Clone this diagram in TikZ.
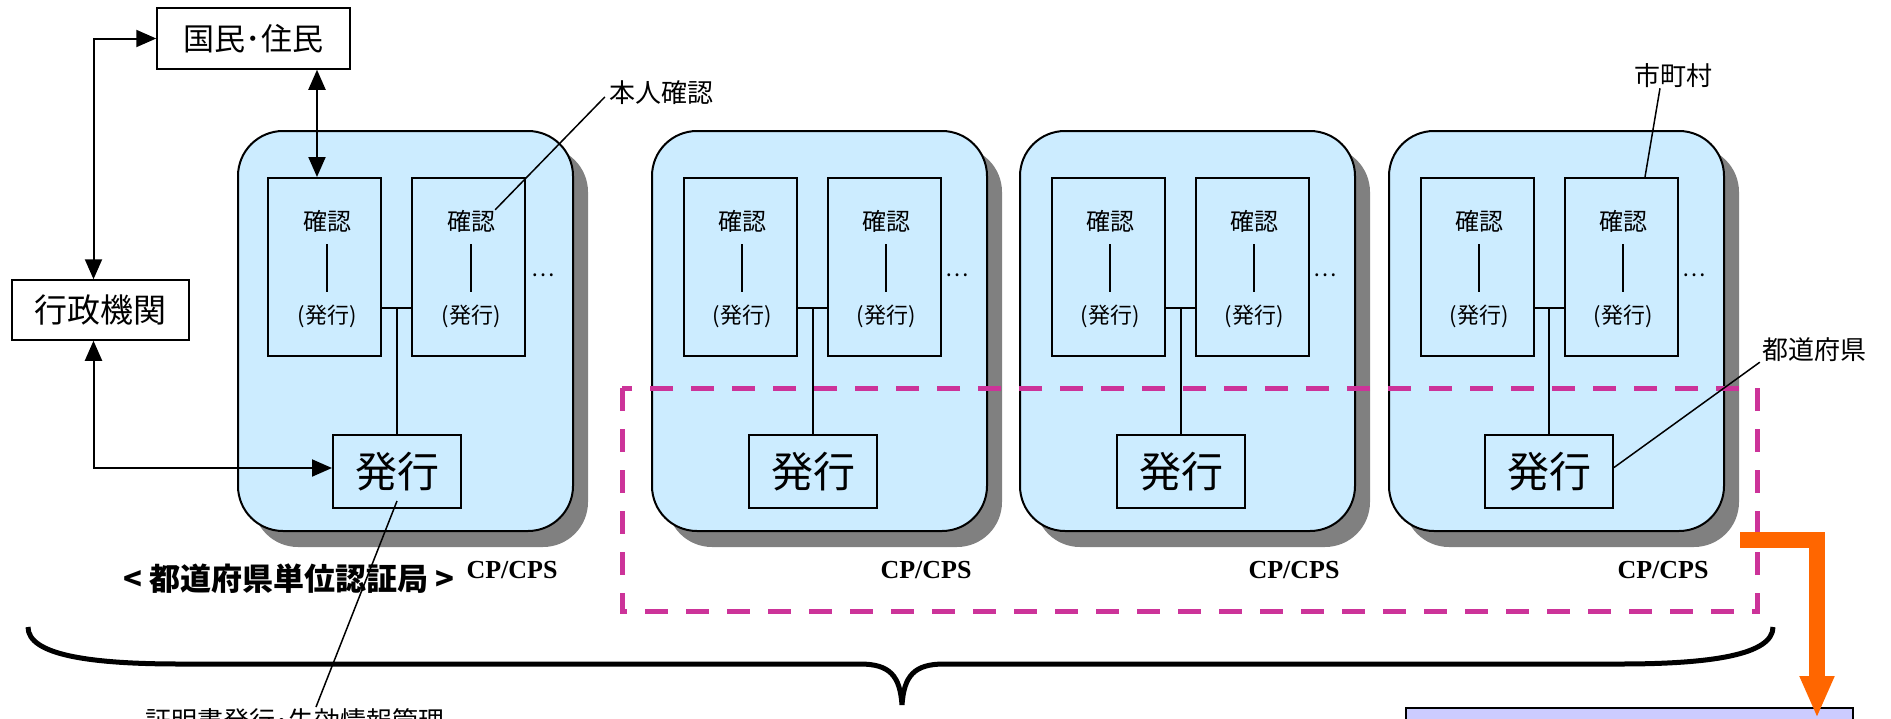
\documentclass[tikz,border=0pt]{standalone}
\usepackage{fontspec}
\newfontfamily\jp{Noto Sans CJK JP}
\newfontfamily\tms{Liberation Serif}
\usetikzlibrary{arrows.meta}
\definecolor{cabg}{RGB}{204,236,255}
\definecolor{shade}{RGB}{128,128,128}
\definecolor{pref}{RGB}{204,51,153}
\definecolor{flow}{RGB}{255,102,0}
\definecolor{lav}{RGB}{204,204,255}
\begin{document}
\begin{tikzpicture}[x=1pt,y=-1pt]
\tikzstyle{every node}=[font=\jp,inner sep=0pt]
\tikzstyle{ca}=[draw,line width=2pt,fill=cabg,rounded corners=45pt]
\tikzstyle{cashadow}=[fill=shade,rounded corners=45pt]
\tikzstyle{kbox}=[draw,line width=2pt,fill=cabg,minimum width=113pt,minimum height=178pt]
\tikzstyle{hbox}=[draw,line width=2pt,fill=cabg,minimum width=128pt,minimum height=73pt,font=\jp\fontsize{42}{48}\selectfont]
\tikzstyle{kak}=[font=\jp\fontsize{24}{28}\selectfont]
\tikzstyle{hak}=[font=\jp\fontsize{22}{26}\selectfont]
\tikzstyle{note}=[font=\jp\fontsize{26}{30}\selectfont]
\tikzstyle{cps}=[font=\tms\bfseries\fontsize{26}{30}\selectfont]
\tikzstyle{wire}=[line width=2pt]
\tikzstyle{lead}=[line width=1.5pt]
\tikzstyle{link}=[line width=2pt,{Triangle[length=20pt,width=17pt]}-{Triangle[length=20pt,width=17pt]}]
\useasboundingbox (0,0) rectangle (1891,718);

% block 1
\fill[cashadow] (253,147) rectangle (588,547);
\draw[ca] (238,131) rectangle (573,531);
\node[kbox] (kakA1) at (324.5,267) {};
\node[kbox] (kakB1) at (468.5,267) {};
\node[kak] (kA1) at (327,221) {確認};
\node[kak] (kB1) at (471,221) {確認};
\draw[wire] (327,244) -- (327,292);
\draw[wire] (471,244) -- (471,292);
\node[hak] at (327,316) {(発行)};
\node[hak] at (471,316) {(発行)};
\node[hak] at (543,275) {…};
\node[hbox] (hakko1) at (397,471.5) {発行};
\coordinate (j1) at (397,308);
\draw[wire] ([yshift=-41pt]kakA1.east) -- ([yshift=-41pt]kakB1.west);
\draw[wire] (j1) -- (hakko1.north);
\node[cps] at (512,570) {CP/CPS};

% block 2
\fill[cashadow] (667,147) rectangle (1002,547);
\draw[ca] (652,131) rectangle (987,531);
\node[kbox] (kakA2) at (740.5,267) {};
\node[kbox] (kakB2) at (884,267) {};
\node[kak] at (742,221) {確認};
\node[kak] at (886,221) {確認};
\draw[wire] (742,244) -- (742,292);
\draw[wire] (886,244) -- (886,292);
\node[hak] at (742,316) {(発行)};
\node[hak] at (886,316) {(発行)};
\node[hak] at (957,275) {…};
\node[hbox] (hakko2) at (813,471.5) {発行};
\coordinate (j2) at (813,308);
\draw[wire] ([yshift=-41pt]kakA2.east) -- ([yshift=-41pt]kakB2.west);
\draw[wire] (j2) -- (hakko2.north);
\node[cps] at (926,570) {CP/CPS};

% block 3
\fill[cashadow] (1035,147) rectangle (1370,547);
\draw[ca] (1020,131) rectangle (1355,531);
\node[kbox] (kakA3) at (1108.5,267) {};
\node[kbox] (kakB3) at (1252,267) {};
\node[kak] at (1110,221) {確認};
\node[kak] at (1254,221) {確認};
\draw[wire] (1110,244) -- (1110,292);
\draw[wire] (1254,244) -- (1254,292);
\node[hak] at (1110,316) {(発行)};
\node[hak] at (1254,316) {(発行)};
\node[hak] at (1325,275) {…};
\node[hbox] (hakko3) at (1181,471.5) {発行};
\coordinate (j3) at (1181,308);
\draw[wire] ([yshift=-41pt]kakA3.east) -- ([yshift=-41pt]kakB3.west);
\draw[wire] (j3) -- (hakko3.north);
\node[cps] at (1294,570) {CP/CPS};

% block 4
\fill[cashadow] (1404,147) rectangle (1739,547);
\draw[ca] (1389,131) rectangle (1724,531);
\node[kbox] (kakA4) at (1477,267) {};
\node[kbox] (kakB4) at (1621,267) {};
\node[kak] at (1479,221) {確認};
\node[kak] at (1623,221) {確認};
\draw[wire] (1479,244) -- (1479,292);
\draw[wire] (1623,244) -- (1623,292);
\node[hak] at (1479,316) {(発行)};
\node[hak] at (1623,316) {(発行)};
\node[hak] at (1694,275) {…};
\node[hbox] (hakko4) at (1549,471.5) {発行};
\coordinate (j4) at (1549,308);
\draw[wire] ([yshift=-41pt]kakA4.east) -- ([yshift=-41pt]kakB4.west);
\draw[wire] (j4) -- (hakko4.north);
\node[cps] at (1663,570) {CP/CPS};

% prefecture range
\draw[pref,line width=5pt,dash pattern=on 23pt off 18pt] (622,388) rectangle (1757,611);

% users and agencies
\node[draw,line width=1.5pt,minimum width=193pt,minimum height=61pt,font=\jp\fontsize{31}{36}\selectfont] (kokumin) at (253.5,38.5) {国民･住民};
\node[draw,line width=1.5pt,minimum width=177pt,minimum height=60pt,font=\jp\fontsize{33}{38}\selectfont] (gyosei) at (100.5,310) {行政機関};
\draw[link] (kokumin.west) -| ([xshift=-7pt]gyosei.north);
\draw[link] ([xshift=-7pt]gyosei.south) |- ([yshift=3.5pt]hakko1.west);
\draw[link] ([xshift=63.5pt]kokumin.south) -- ([xshift=-7.5pt]kakA1.north);

% labels
\node[note] (honnin) at (661,93) {本人確認};
\node[note] (shicho) at (1673,76) {市町村};
\node[note] (todo) at (1814,350) {都道府県};
\node[note,anchor=base west] (kanri) at (145,730) {証明書発行･失効情報管理};
\coordinate (kanritop) at (316,707);
\node[font=\jp\bfseries\fontsize{31}{36}\selectfont] (kyoku) at (289,579) {< 都道府県単位認証局 >};
\draw[lead] ([shift={(-4pt,-4pt)}]honnin.west) -- (kB1.north east);
\draw[lead] ([xshift=-13pt]shicho.south) -- ([xshift=24pt]kakB4.north);
\draw[lead] ([xshift=-2pt]todo.south west) -- ([yshift=4pt]hakko4.east);
\draw[lead] ([yshift=8pt]hakko1.south) -- (kanritop);

% brace
\draw[line width=5pt] (28,627) .. controls (28,655) and (90,664) .. (180,664) -- (860,664) .. controls (890,664) and (900,676) .. (902,705) .. controls (904,676) and (914,664) .. (944,664) -- (1620,664) .. controls (1710,664) and (1773,655) .. (1773,627);

% centre box and flow
\node[draw,line width=1.5pt,fill=lav,minimum width=447pt,minimum height=60pt,anchor=north west] (center) at (1405,707) {};
\draw[flow,line width=16pt,-{Triangle[length=42pt,width=32pt]}] (1740,540) -| (1817,718);
\end{tikzpicture}
\end{document}
